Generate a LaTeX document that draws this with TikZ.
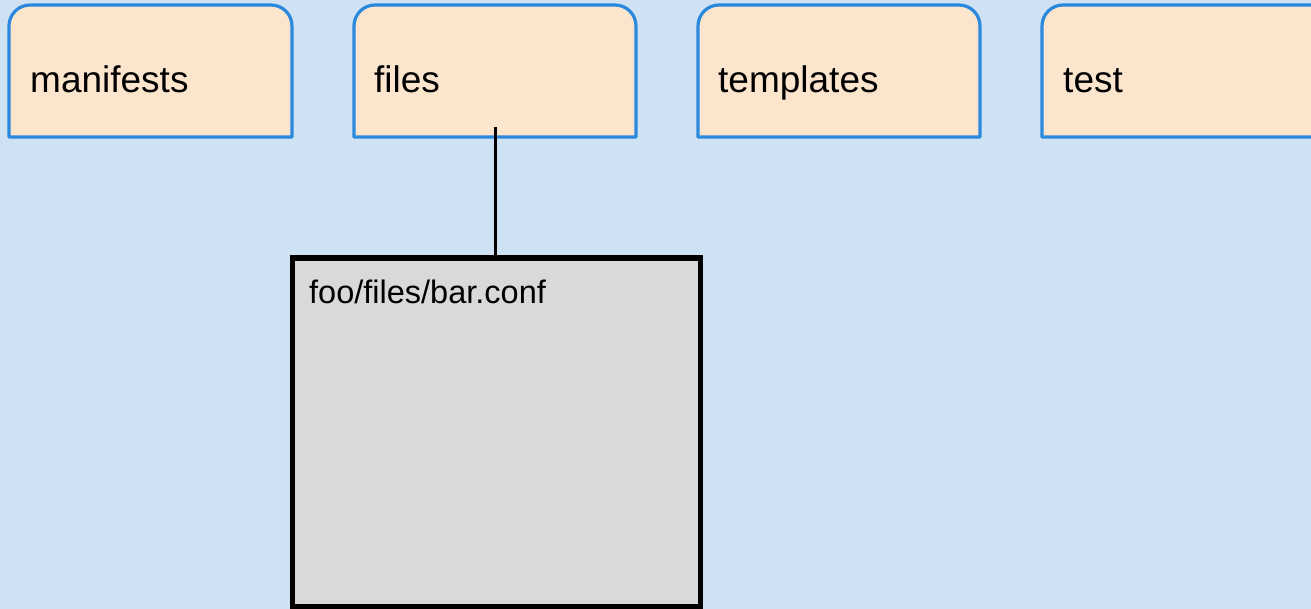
\documentclass[tikz,border=0pt]{standalone}
\usepackage{fontspec}
\setmainfont{Liberation Sans}
\definecolor{bgblue}{HTML}{CFE2F3}
\definecolor{tabfill}{HTML}{FCE5CD}
\definecolor{tabline}{HTML}{2A88DE}
\definecolor{boxfill}{HTML}{D9D9D9}
\tikzset{
  tabshape/.style={fill=tabfill, draw=tabline, line width=3.2pt, line join=round},
  tablabel/.style={anchor=base west, inner sep=0pt, font=\fontsize{37}{44}\selectfont},
  confbox/.style={draw=black, fill=boxfill, line width=5.5pt, inner sep=0pt},
  conflabel/.style={anchor=base west, inner sep=0pt, font=\fontsize{32.5}{39}\selectfont},
  link/.style={draw=black, line width=3.5pt}
}
\newcommand{\tabat}[2]{% left x, right x
  \filldraw[tabshape] (#1,137) -- (#1,26) .. controls (#1,14.4) and (#1+9.4,5) .. (#1+21,5)
    -- (#2-21,5) .. controls (#2-9.4,5) and (#2,14.4) .. (#2,26) -- (#2,137) -- cycle;
}
\begin{document}
\begin{tikzpicture}[x=1pt,y=-1pt]
  \useasboundingbox (0,0) rectangle (1311,609);
  \clip (0,0) rectangle (1311,609);
  \fill[bgblue] (0,0) rectangle (1311,609);
  % tabs
  \tabat{9}{292}
  \tabat{354}{636}
  \tabat{698}{980}
  \tabat{1042}{1340}
  \node[tablabel] (manifests) at (30,93) {manifests};
  \node[tablabel] (files) at (374,93) {files};
  \node[tablabel] (templates) at (718,93) {templates};
  \node[tablabel] (test) at (1063,93) {test};
  % file box
  \node[confbox, minimum width=408pt, minimum height=349pt] (conf) at (496.5,432.5) {};
  \node[conflabel] (conftext) at (309,304) {foo/files/bar.conf};
  \coordinate (filesport) at (495.5,127.5);
  \draw[link] (filesport) -- (filesport |- conf.north);
\end{tikzpicture}
\end{document}
